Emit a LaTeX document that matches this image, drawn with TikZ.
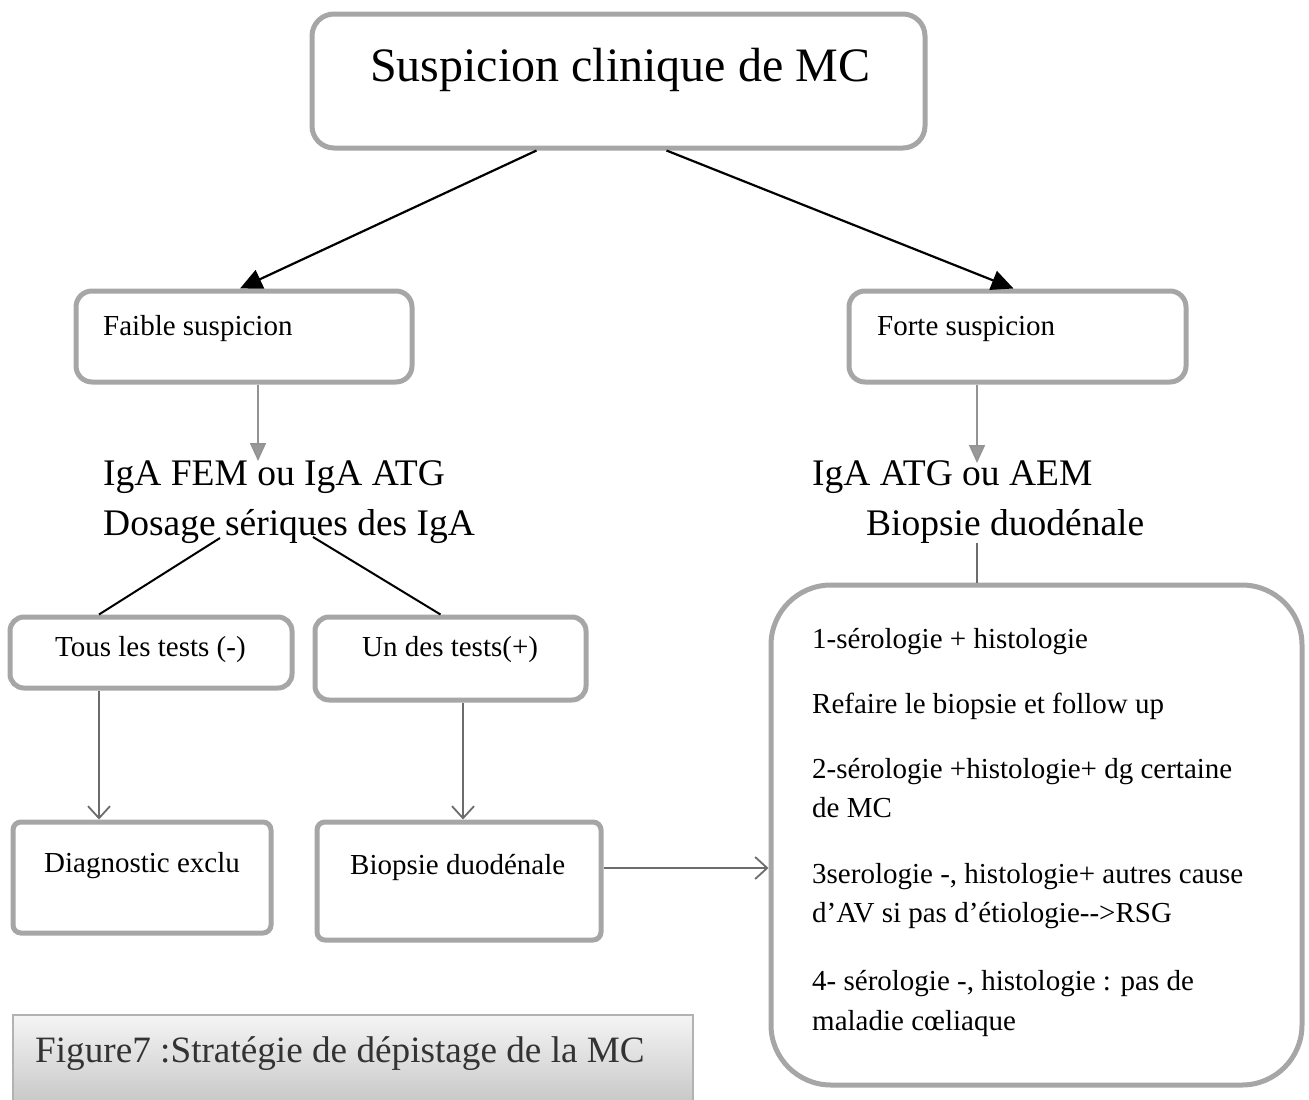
\documentclass[tikz,border=0pt]{standalone}
\usepackage{fontspec}
\setmainfont{Liberation Serif}
\usetikzlibrary{arrows.meta}
\tikzset{
  box/.style={draw=gray!70, line width=5pt, rounded corners=22pt, inner sep=0pt},
  txt/.style={anchor=base west, inner sep=0pt, font=\fontsize{29}{34}\selectfont},
  bigtxt/.style={anchor=base west, inner sep=0pt, font=\fontsize{37.5}{44}\selectfont},
  blk/.style={line width=2.2pt, -{Triangle[length=22pt,width=20pt]}},
  gry/.style={draw=gray!85, line width=1.6pt, -{Triangle[length=18pt,width=16pt,fill=gray!80]}},
  vee/.style={draw=gray!85!black, line width=1.8pt, -{Straight Barb[length=12pt,width=22pt,line width=1.8pt]}},
  plain/.style={line width=2pt}
}
\begin{document}
\begin{tikzpicture}[x=1pt,y=-1pt]
\useasboundingbox (0,0) rectangle (1309,1100);
% boxes
\node[box, minimum width=613pt, minimum height=134pt] (top) at (618.5,81) {};
\node[box, minimum width=336pt, minimum height=91pt, rounded corners=16pt] (faible) at (244,336.5) {};
\node[box, minimum width=337pt, minimum height=91pt, rounded corners=16pt] (forte) at (1017.5,336.5) {};
\node[box, minimum width=282pt, minimum height=71pt, rounded corners=14pt] (tous) at (151,652.5) {};
\node[box, minimum width=271pt, minimum height=83pt, rounded corners=14pt] (un) at (450.5,658.5) {};
\node[box, minimum width=258pt, minimum height=111pt, rounded corners=8pt] (diag) at (142,877.5) {};
\node[box, minimum width=284pt, minimum height=118pt, rounded corners=8pt] (biop) at (459,881) {};
\node[box, minimum width=531pt, minimum height=500pt, rounded corners=60pt] (right) at (1036.5,835) {};
\node[draw=gray!60, line width=2.5pt, top color=gray!8, bottom color=gray!45, minimum width=680pt, minimum height=92pt, inner sep=0pt, rounded corners=0pt] (cap) at (353,1061) {};
% texts
\node[anchor=base west, inner sep=0pt, font=\fontsize{48}{56}\selectfont] (ttop) at (370,81) {Suspicion clinique de MC};
\node[txt] (tfaible) at (103,335) {Faible suspicion};
\node[txt] (tforte) at (877,335) {Forte suspicion};
\node[bigtxt] (iga1) at (103,485) {IgA FEM ou IgA ATG};
\node[bigtxt] (iga2) at (103,535) {Dosage sériques des IgA};
\node[bigtxt] (atg1) at (812,485) {IgA ATG ou AEM};
\node[bigtxt] (atg2) at (866,535) {Biopsie duodénale};
\node[txt] (ttous) at (55,656) {Tous les tests (-)};
\node[txt] (tun) at (362,656) {Un des tests(+)};
\node[txt] (tdiag) at (44,872) {Diagnostic exclu};
\node[txt] (tbiop) at (350,874) {Biopsie duodénale};
\node[txt] (r1) at (812,648) {1-sérologie + histologie};
\node[txt] (r2) at (812,713) {Refaire le biopsie et follow up};
\node[txt] (r3) at (812,778) {2-sérologie +histologie+ dg certaine};
\node[txt] (r4) at (812,817) {de MC};
\node[txt] (r5) at (812,883) {3serologie -, histologie+ autres cause};
\node[txt] (r6) at (812,922) {d’AV si pas d’étiologie-{}-{}>RSG};
\node[txt] (r7) at (812,990) {4- sérologie -, histologie : pas de};
\node[txt] (r8) at (812,1030) {maladie cœliaque};
\node[anchor=base west, inner sep=0pt, text=black!80, font=\fontsize{37.2}{43}\selectfont] (tcap) at (35,1062) {Figure7 :Stratégie de dépistage de la MC};
% coordinates
\coordinate (fa) at (258,461);
\coordinate (fo) at (977,463);
\coordinate (dl) at (220,538);
\coordinate (dr) at (313,537);
\coordinate (bd) at (977,543);
% connectors
\draw[blk] ([xshift=-82pt]top.south) -- ([xshift=-4pt]faible.north);
\draw[blk] ([xshift=48pt]top.south) -- ([xshift=-4pt]forte.north);
\draw[gry] ([xshift=14pt]faible.south) -- (fa);
\draw[gry] ([xshift=-40.5pt]forte.south) -- (fo);
\draw[plain] (dl) -- ([xshift=-52pt]tous.north);
\draw[plain] (dr) -- ([xshift=-10pt]un.north);
\draw[draw=gray!85!black, line width=1.6pt] (bd) -- ([xshift=-59.5pt]right.north);
\draw[vee] ([xshift=-52pt]tous.south) -- ([xshift=-43pt]diag.north);
\draw[vee] ([xshift=12.5pt]un.south) -- ([xshift=4pt]biop.north);
\draw[vee] ([yshift=13pt]biop.east) -- ([yshift=13pt]biop.east -| right.west);
\end{tikzpicture}
\end{document}
